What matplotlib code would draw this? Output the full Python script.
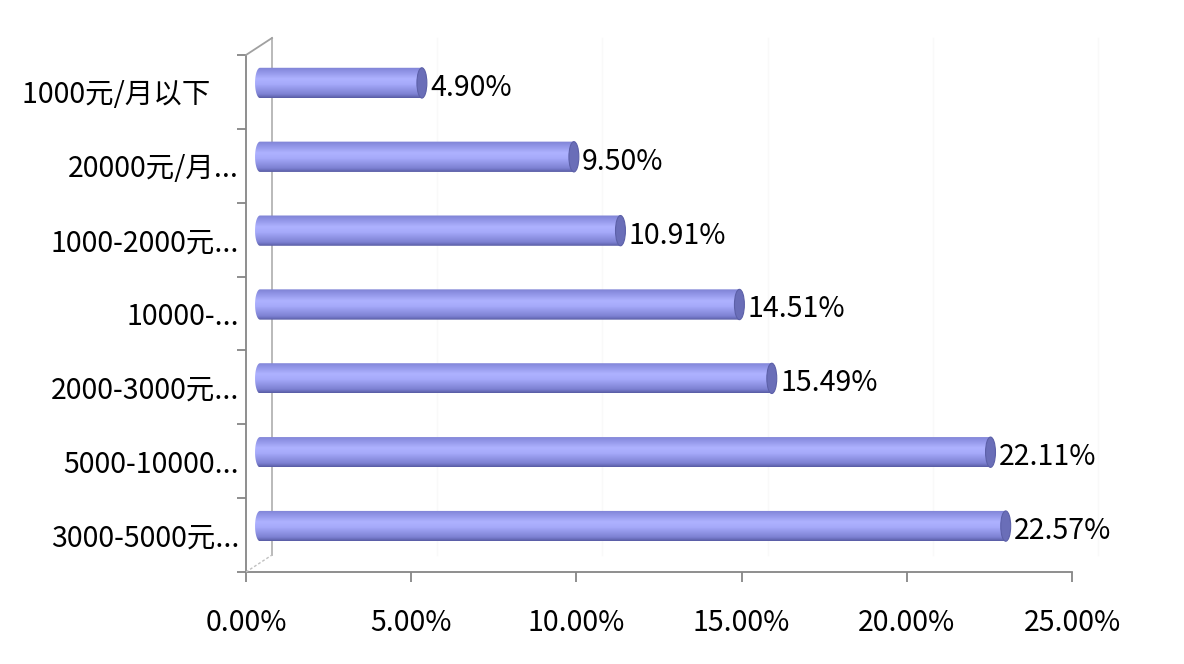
import numpy as np
import matplotlib
matplotlib.use("Agg")
import matplotlib.pyplot as plt
from matplotlib.transforms import ScaledTranslation
from matplotlib.path import Path
from matplotlib.patches import PathPatch, Ellipse
from matplotlib.colors import LinearSegmentedColormap
from matplotlib.lines import Line2D

plt.rcParams['font.family'] = ['Noto Sans CJK SC', 'DejaVu Sans']

categories = ["3000-5000元...", "5000-10000...", "2000-3000元...", "10000-...",
              "1000-2000元...", "20000元/月...", "1000元/月以下\u3000"]
values = [22.57, 22.11, 15.49, 14.51, 10.91, 9.50, 4.90]
xticks = [0, 5, 10, 15, 20, 25]
xticklabels = ["0.00%", "5.00%", "10.00%", "15.00%", "20.00%", "25.00%"]

W, H, DPI = 1184, 664, 100
FS = 20.5
fig = plt.figure(figsize=(W / DPI, H / DPI), dpi=DPI)
L, R, T, B = 246, 1072, 55, 572
ax = fig.add_axes([L / W, (H - B) / H, (R - L) / W, (B - T) / H])
ax.set_xlim(0, 25)
n = len(categories)
ax.set_ylim(-0.5, n - 0.5)

gray = "#868686"
for s in ["top", "right"]:
    ax.spines[s].set_visible(False)
for s in ["left", "bottom"]:
    ax.spines[s].set_color(gray)
    ax.spines[s].set_linewidth(1.3)

ax.set_xticks(xticks)
ax.set_xticklabels(xticklabels, fontsize=FS)
ax.tick_params(axis="x", direction="out", length=7, width=1.3, color=gray, pad=19)
ax.set_yticks(np.arange(n + 1) - 0.5)
ax.set_yticklabels([])
ax.tick_params(axis="y", which="major", direction="out", length=6.5, width=1.3, color=gray)
ax.set_yticks(np.arange(n), minor=True)
ax.set_yticklabels(categories, minor=True, fontsize=FS)
ax.tick_params(axis="y", which="minor", length=0, pad=5)

# back wall (3D depth)
dx, dy = 26 / DPI, 17 / DPI
wall = ax.transAxes + ScaledTranslation(dx, dy, fig.dpi_scale_trans)
ax.add_line(Line2D([0, 0], [0, 1], transform=wall, color="#b4b4b4", lw=1.3, clip_on=False))
for xv in xticks[1:]:
    ax.add_line(Line2D([xv, xv], [0, 1], transform=ax.get_xaxis_transform() + ScaledTranslation(dx, dy, fig.dpi_scale_trans),
                       color="#f9f9f9", lw=1, clip_on=False, zorder=0))
top_diag = Line2D([L / W, (L + 26) / W], [(H - T) / H, (H - T + 17) / H], transform=fig.transFigure,
                  color="#a0a0a0", lw=1.3)
bot_diag = Line2D([L / W, (L + 26) / W], [(H - B) / H, (H - B + 17) / H], transform=fig.transFigure,
                  color="#c0c0c0", lw=1, ls=(0, (2, 1.5)))
fig.add_artist(top_diag)
fig.add_artist(bot_diag)

# cylinders
bar_tr = ax.transData + ScaledTranslation(14 / DPI, 9 / DPI, fig.dpi_scale_trans)
cmap = LinearSegmentedColormap.from_list(
    "cyl", [(0.0, "#575ba2"), (0.12, "#7c80d2"), (0.45, "#a6aafa"), (0.62, "#aeb2ff"),
            (0.85, "#9094e6"), (1.0, "#7e82d4")])
grad = np.linspace(0, 1, 256).reshape(-1, 1)
h = 0.41
capw = 0.3  # data units (ellipse width)
for i, v in enumerate(values):
    y0, y1 = i - h / 2, i + h / 2
    x0 = 0.0
    t = np.linspace(np.pi / 2, 3 * np.pi / 2, 40)
    left = np.column_stack([x0 + capw / 2 * np.cos(t), i + h / 2 * np.sin(t)])
    verts = np.vstack([[[v, y1]], left, [[v, y0]], [[v, y1]]])
    codes = [Path.MOVETO] + [Path.LINETO] * (len(verts) - 2) + [Path.CLOSEPOLY]
    body = PathPatch(Path(verts, codes), transform=bar_tr, facecolor="none", edgecolor="none")
    ax.add_patch(body)
    im = ax.imshow(grad, cmap=cmap, aspect="auto", extent=[x0 - capw, v, y0, y1],
                   origin="lower", transform=bar_tr, zorder=2, interpolation="bilinear")
    im.set_clip_path(body)
    cap = Ellipse((v, i), capw, h, transform=bar_tr, facecolor="#6a6eb8",
                  edgecolor="#5c60a8", lw=0.8, zorder=3)
    ax.add_patch(cap)
    ax.annotate(f"{v:.2f}%", xy=(v, i), xycoords=bar_tr, xytext=(6, -3.5),
                textcoords="offset points", ha="left", va="center", fontsize=FS, zorder=4)

ax.set_xlim(0, 25)
ax.set_ylim(-0.5, n - 0.5)
fig.savefig("out.png", dpi=DPI)
